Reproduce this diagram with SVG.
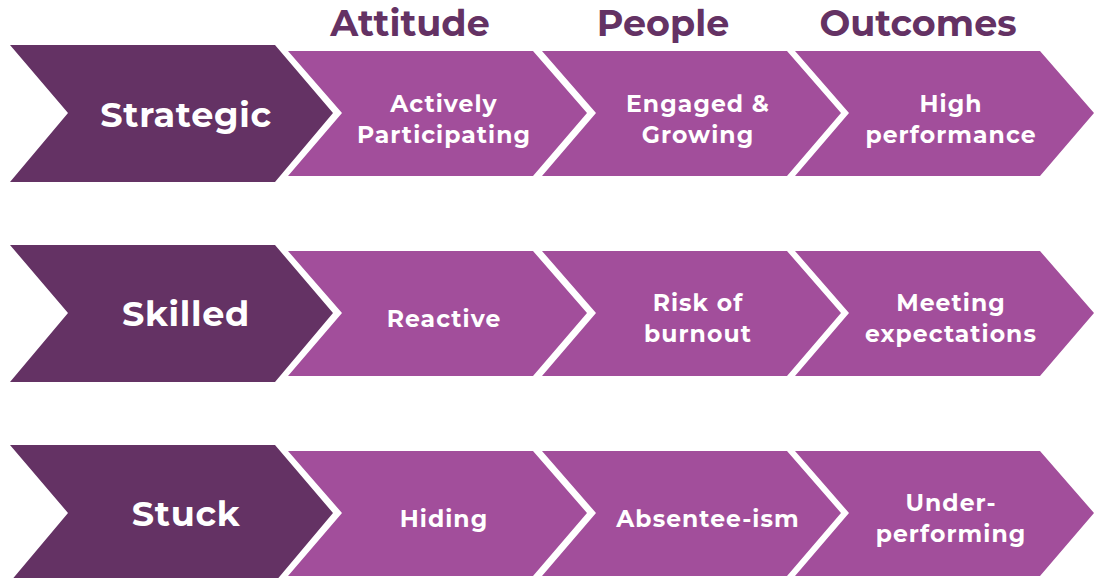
<svg xmlns="http://www.w3.org/2000/svg" width="1099" height="578" viewBox="0 0 1099 578">
<defs>
<style>
.dark{fill:#643264}
.light{fill:#A24E9B}
.t{font-family:"Montserrat","Open Sans","Liberation Sans",sans-serif;font-weight:700;fill:#ffffff;text-anchor:middle}
.big{font-size:35px;letter-spacing:0.7px}
.sm{font-size:23.5px;letter-spacing:1.05px}
.hd{font-family:"Montserrat","Open Sans","Liberation Sans",sans-serif;font-weight:700;fill:#643264;text-anchor:middle;font-size:36.5px}
</style>
<polygon id="dk" points="0,0 265,0 323,68 265,137 0,137 58,68"/>
<polygon id="lt" points="0,0 245,0 299,62 245,125 0,125 54,62"/>
</defs>
<g id="headings">
<text class="hd" x="410" y="36">Attitude</text>
<text class="hd" x="663" y="36">People</text>
<text class="hd" x="918" y="36">Outcomes</text>
</g>
<g id="row-strategic">
<use href="#dk" class="dark" x="10" y="45"/>
<text class="t big" x="186" y="127">Strategic</text>
</g>
<g id="strategic-attitude">
<use href="#lt" class="light" x="288" y="51"/>
<text class="t sm" x="444" y="112">Actively</text>
<text class="t sm" x="444" y="143">Participating</text>
</g>
<g id="strategic-people">
<use href="#lt" class="light" x="542" y="51"/>
<text class="t sm" x="698" y="112">Engaged &amp;</text>
<text class="t sm" x="698" y="143">Growing</text>
</g>
<g id="strategic-outcomes">
<use href="#lt" class="light" x="795" y="51"/>
<text class="t sm" x="951" y="112">High</text>
<text class="t sm" x="951" y="143">performance</text>
</g>
<g id="row-skilled">
<use href="#dk" class="dark" x="10" y="245"/>
<text class="t big" x="186" y="326">Skilled</text>
</g>
<g id="skilled-attitude">
<use href="#lt" class="light" x="288" y="251"/>
<text class="t sm" x="444" y="327">Reactive</text>
</g>
<g id="skilled-people">
<use href="#lt" class="light" x="542" y="251"/>
<text class="t sm" x="698" y="311">Risk of</text>
<text class="t sm" x="698" y="342">burnout</text>
</g>
<g id="skilled-outcomes">
<use href="#lt" class="light" x="795" y="251"/>
<text class="t sm" x="951" y="311">Meeting</text>
<text class="t sm" x="951" y="342">expectations</text>
</g>
<g id="row-stuck">
<use href="#dk" class="dark" x="10" y="445"/>
<text class="t big" x="186" y="526">Stuck</text>
</g>
<g id="stuck-attitude">
<use href="#lt" class="light" x="288" y="451"/>
<text class="t sm" x="444" y="527">Hiding</text>
</g>
<g id="stuck-people">
<use href="#lt" class="light" x="542" y="451"/>
<text class="t sm" x="708" y="527">Absentee-ism</text>
</g>
<g id="stuck-outcomes">
<use href="#lt" class="light" x="795" y="451"/>
<text class="t sm" x="951" y="511">Under-</text>
<text class="t sm" x="951" y="542">performing</text>
</g>
<g id="connectors"/>
</svg>
